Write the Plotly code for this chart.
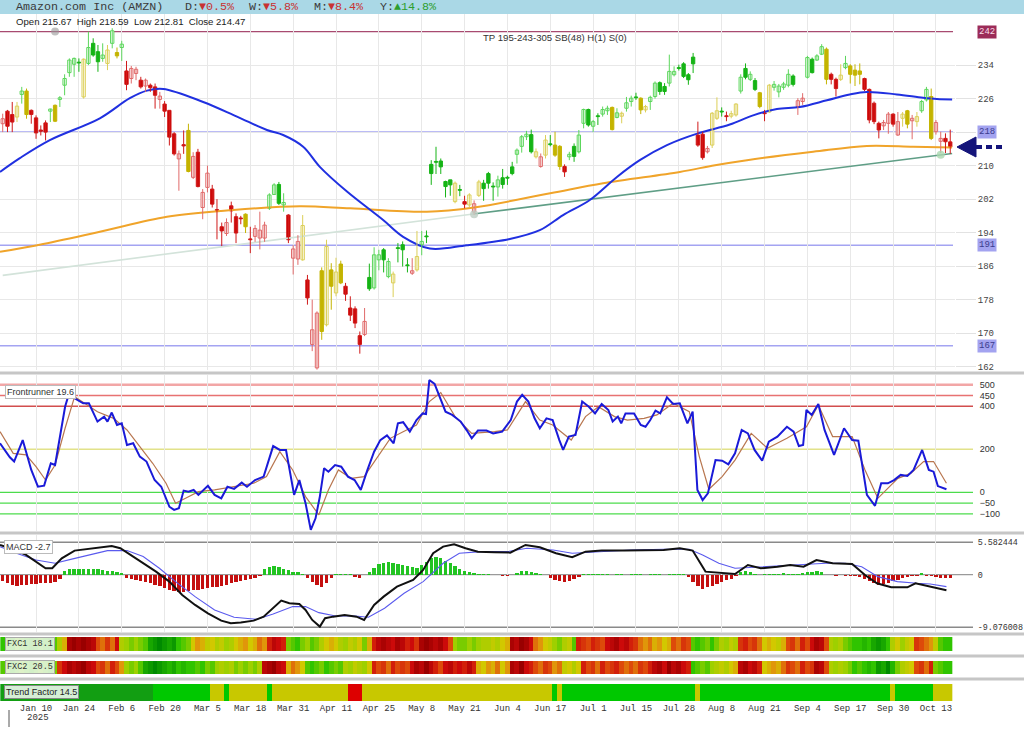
import plotly.graph_objects as go

# ---------------- DATA ----------------
date_idx = [7, 16, 25, 34, 43, 52, 61, 70, 79, 88, 97, 106, 115, 124, 133, 142, 151, 160, 169, 178, 187, 196]
date_labels = ["Jan 10", "Jan 24", "Feb 6", "Feb 20", "Mar 5", "Mar 18", "Mar 31", "Apr 11", "Apr 25", "May 8",
               "May 21", "Jun 4", "Jun 17", "Jul 1", "Jul 15", "Jul 28", "Aug 8", "Aug 21", "Sep 4", "Sep 17",
               "Sep 30", "Oct 13"]

candle_style = list("rRRygYRRRR" "gYggggGygG" "GgygYgRrrR" "rRRrRRRrRY" "rRrrRRRrRR"
                    "RYRrrrggGg" "RrryRrrYyY" "yYRRRRrGgg" "GgyGGGrygG" "GGGGGyGRyr"
                    "yGGGgGGGgg" "gGyryGYYRg" "GggGgGggYg" "yggGYyggGG" "ggGGGGRRry"
                    "yGRyygGgGY" "RyggggGrrg" "GggYRRygYY" "YRRRRrrRry" "YryggYrrRR")

o_vals = [220.0, 223.0, 222.2, 221.6, 227.0, 227.8, 223.2, 221.4, 218.5, 220.2,
          223.0, 224.4, 225.8, 229.2, 232.2, 234.2, 234.7, 226.4, 234.4, 239.2,
          237.2, 235.6, 234.4, 239.2, 237.0, 238.2, 232.6, 230.8, 232.0, 230.4,
          229.0, 229.2, 228.8, 225.8, 224.7, 223.2, 217.6, 211.6, 215.0, 218.4,
          207.2, 213.2, 200.0, 204.8, 204.4, 199.5, 195.4, 193.8, 200.4, 197.8,
          197.5, 198.4, 192.5, 193.1, 192.7, 192.7, 199.8, 203.1, 205.5, 200.6,
          198.2, 187.9, 187.7, 187.5, 182.7, 167.3, 161.7, 184.9, 172.0, 185.1,
          179.6, 186.5, 181.2, 176.0, 175.8, 169.4, 169.7, 183.3, 180.8, 187.5,
          189.9, 183.5, 182.0, 190.4, 191.1, 186.3, 184.3, 185.1, 191.1, 193.2,
          210.3, 211.0, 211.1, 206.2, 206.6, 201.4, 204.3, 201.4, 200.6, 198.9,
          202.9, 205.8, 208.1, 205.1, 204.9, 207.1, 207.2, 209.7, 212.7, 214.6,
          216.9, 217.4, 212.1, 209.8, 212.5, 215.2, 214.9, 214.6, 209.8, 212.1,
          214.6, 213.3, 220.1, 223.4, 219.4, 221.9, 222.3, 223.1, 223.9, 221.5,
          221.8, 223.7, 225.3, 226.4, 226.1, 223.3, 225.3, 226.5, 229.8, 228.9,
          229.7, 231.7, 233.4, 234.3, 231.7, 235.9, 217.3, 217.5, 213.3, 214.9,
          221.3, 223.0, 221.9, 221.8, 222.1, 227.8, 233.2, 230.6, 230.3, 227.4,
          222.6, 222.8, 228.7, 227.6, 228.7, 229.2, 231.4, 224.1, 225.3, 231.1,
          235.4, 235.2, 236.6, 237.8, 231.8, 230.6, 230.6, 233.4, 233.8, 232.8,
          232.6, 230.8, 228.2, 224.9, 220.1, 219.5, 220.1, 222.3, 217.3, 221.3,
          223.1, 220.7, 220.5, 223.1, 225.7, 226.5, 218.1, 215.8, 216.5, 215.67]
h_vals = [222.4, 223.3, 225.2, 225.2, 228.8, 228.4, 223.4, 222.0, 219.6, 220.8,
          223.6, 224.6, 226.6, 231.8, 235.6, 235.8, 235.6, 235.6, 242.0, 240.4,
          238.8, 239.2, 238.8, 242.8, 238.2, 239.8, 235.0, 233.8, 233.6, 231.2,
          230.8, 229.6, 229.6, 227.6, 225.4, 223.2, 218.0, 213.6, 218.4, 220.0,
          213.2, 214.0, 204.4, 210.0, 205.4, 202.0, 196.4, 197.4, 201.4, 198.6,
          198.0, 198.6, 195.4, 195.8, 199.0, 196.6, 203.4, 205.8, 206.1, 203.4,
          198.4, 191.0, 193.4, 198.2, 183.9, 178.0, 175.2, 185.7, 192.3, 186.7,
          188.0, 187.3, 182.0, 178.8, 176.4, 170.4, 176.0, 186.6, 190.5, 189.9,
          190.3, 187.9, 184.7, 191.5, 191.9, 187.9, 187.9, 194.4, 194.4, 194.5,
          211.3, 214.5, 211.7, 206.4, 206.6, 206.2, 205.4, 202.8, 203.4, 201.7,
          206.6, 206.6, 208.5, 206.0, 207.6, 209.2, 207.6, 210.9, 214.1, 217.3,
          218.3, 218.6, 214.1, 212.9, 217.3, 217.3, 218.1, 214.9, 210.3, 213.3,
          215.3, 218.5, 223.6, 223.6, 220.9, 222.5, 224.1, 224.3, 224.1, 223.7,
          222.9, 226.4, 226.7, 227.4, 226.3, 224.5, 226.7, 230.1, 230.1, 229.7,
          236.5, 233.7, 234.1, 234.7, 232.1, 236.9, 220.5, 218.1, 214.7, 222.8,
          226.3, 223.9, 222.9, 223.1, 224.9, 231.8, 234.4, 232.5, 230.9, 227.6,
          223.3, 229.5, 230.2, 229.5, 230.0, 233.0, 231.8, 226.1, 227.3, 236.2,
          235.8, 236.6, 239.0, 238.2, 232.2, 231.0, 234.2, 236.2, 234.2, 234.2,
          234.4, 231.0, 228.4, 225.3, 220.5, 220.9, 222.8, 222.5, 222.8, 222.8,
          223.3, 222.1, 222.8, 225.7, 228.8, 228.4, 220.9, 218.1, 217.7, 218.59]
l_vals = [218.0, 218.0, 218.0, 220.4, 224.8, 221.2, 220.0, 216.4, 217.2, 216.0,
          220.4, 220.4, 224.0, 226.8, 231.2, 231.2, 232.4, 226.0, 234.0, 236.0,
          232.4, 234.8, 232.8, 238.0, 235.6, 235.0, 228.0, 229.6, 230.4, 228.4,
          227.6, 227.6, 223.6, 223.6, 221.6, 214.8, 212.4, 204.0, 212.8, 208.4,
          206.8, 204.8, 197.2, 203.6, 200.0, 192.4, 190.8, 193.2, 196.4, 191.5,
          196.0, 193.9, 189.1, 191.8, 190.0, 191.8, 199.4, 203.0, 200.6, 199.0,
          191.5, 184.0, 186.3, 187.3, 176.8, 165.7, 161.3, 168.4, 171.6, 175.6,
          178.8, 181.7, 177.7, 172.9, 171.2, 165.1, 169.3, 180.1, 180.4, 185.0,
          184.5, 183.1, 178.6, 186.9, 185.9, 184.5, 183.9, 184.7, 188.6, 191.5,
          205.4, 208.0, 208.0, 202.4, 202.8, 201.0, 202.7, 199.8, 200.0, 198.2,
          202.5, 201.6, 204.5, 201.6, 202.6, 204.5, 205.4, 207.7, 210.5, 213.1,
          216.1, 212.9, 211.7, 209.5, 211.7, 214.6, 212.1, 209.0, 207.3, 211.3,
          210.9, 212.9, 218.9, 219.3, 218.0, 219.7, 221.7, 222.1, 218.4, 221.3,
          220.1, 222.9, 224.1, 225.7, 222.3, 222.7, 223.3, 226.0, 226.9, 226.9,
          228.9, 231.3, 232.7, 230.9, 229.3, 232.1, 214.5, 211.4, 212.9, 214.2,
          220.9, 221.7, 220.6, 221.3, 221.7, 227.2, 230.6, 230.2, 227.8, 223.7,
          220.6, 222.6, 227.9, 226.3, 228.1, 228.7, 228.9, 222.1, 224.5, 230.8,
          232.0, 235.0, 236.4, 229.4, 229.4, 226.5, 230.2, 233.0, 229.6, 229.0,
          229.4, 227.8, 220.1, 219.9, 216.5, 218.5, 217.6, 219.3, 217.1, 219.3,
          218.9, 216.3, 219.3, 222.6, 225.3, 216.1, 217.4, 213.0, 213.0, 212.81]
c_vals = [221.2, 219.4, 220.4, 224.2, 227.8, 222.2, 222.2, 217.8, 218.2, 218.0,
          223.5, 220.6, 226.2, 230.8, 235.2, 235.6, 234.5, 235.4, 238.2, 236.4,
          234.8, 236.4, 237.6, 242.2, 236.2, 239.0, 229.4, 233.2, 233.0, 228.8,
          230.4, 228.6, 226.8, 226.6, 223.0, 216.8, 212.8, 212.8, 214.7, 208.6,
          212.2, 205.0, 203.6, 208.2, 200.8, 199.3, 194.4, 196.4, 199.2, 193.9,
          197.3, 195.4, 192.3, 195.0, 194.6, 195.8, 203.0, 205.4, 201.0, 201.2,
          192.3, 190.1, 191.9, 195.7, 178.4, 170.8, 174.8, 170.4, 190.7, 181.2,
          184.6, 182.0, 179.3, 174.3, 172.4, 167.3, 172.8, 180.6, 188.7, 188.7,
          187.5, 187.1, 184.1, 190.2, 189.9, 186.1, 184.9, 188.3, 191.9, 193.0,
          208.1, 210.8, 209.7, 205.0, 205.4, 205.8, 204.1, 200.8, 203.0, 200.9,
          206.1, 204.5, 205.8, 204.9, 206.6, 205.5, 207.0, 208.1, 213.7, 216.9,
          217.5, 213.3, 213.3, 212.1, 216.1, 215.0, 212.5, 209.8, 208.5, 212.7,
          212.2, 217.3, 223.4, 219.7, 220.5, 221.7, 223.4, 223.7, 218.6, 222.6,
          222.5, 225.0, 226.1, 226.2, 223.3, 224.1, 226.3, 229.7, 227.7, 227.7,
          232.5, 232.5, 233.2, 231.3, 230.5, 234.3, 214.9, 211.9, 214.1, 222.5,
          223.1, 222.8, 221.7, 222.4, 224.7, 231.1, 231.1, 231.8, 228.2, 224.1,
          222.4, 229.2, 229.4, 229.0, 229.5, 231.8, 229.4, 225.5, 226.1, 235.8,
          232.2, 236.2, 238.4, 230.6, 230.6, 228.4, 231.6, 234.4, 231.8, 231.6,
          231.8, 228.2, 220.9, 220.5, 218.5, 220.3, 222.3, 219.9, 220.5, 222.3,
          219.9, 221.3, 221.7, 225.3, 228.2, 216.5, 220.3, 216.5, 215.7, 214.47]

ma50_x = [-0.57, 3.6, 9.9, 20.4, 26.7, 30.3, 33.7, 42.1, 49.2, 55.5, 58.9, 63.1, 66.6, 72.3, 79.9, 84.1, 89.7,
          97.5, 106.5, 112.8, 117.7, 123.3, 129.0, 133.8, 139.5, 146.0, 152.7, 157.6, 162.6, 167.4, 173.1,
          177.9, 181.5, 187.8, 193.3, 196.2, 199.4]
ma50_v = [208.5, 211.8, 216.1, 221.3, 226.1, 227.9, 228.3, 225.2, 221.7, 218.5, 217.3, 214.5, 209.7, 203.8,
          197.0, 193.0, 190.2, 191.0, 192.5, 194.6, 198.2, 201.8, 207.3, 211.3, 214.9, 217.7, 219.8, 222.0,
          223.5, 224.0, 225.6, 227.0, 227.6, 227.0, 226.2, 225.9, 225.8]
ma200_x = [-0.57, 8.5, 20.4, 34.5, 48.4, 62.4, 73.0, 89.1, 99.0, 115.0, 126.1, 142.2, 149.6, 156.3, 170.2,
           181.5, 191.2, 199.4]
ma200_v = [189.4, 191.3, 194.2, 197.8, 199.4, 200.3, 199.8, 199.0, 200.0, 203.4, 205.8, 208.5, 210.1, 211.3,
           213.3, 214.7, 214.5, 214.3]
trend_x = [0.0, 99.2, 199.4]
trend_v = [183.8, 198.5, 212.9]
level_vals = [242, 218, 191, 167]
price_ticks = [162, 170, 178, 186, 194, 202, 210, 218, 226, 234]

fr_x = [-0.57, 1.5, 2.4, 4.2, 6.0, 7.4, 8.7, 10.1, 11.0, 13.1, 14.1, 15.1, 16.9, 18.1, 19.9, 21.3, 22.0, 22.9,
        24.0, 25.0, 26.1, 27.4, 28.8, 30.2, 31.9, 33.3, 35.0, 36.0, 37.0, 38.0, 39.0, 40.1, 41.1, 43.1, 44.5,
        45.9, 47.2, 48.6, 50.2, 51.3, 53.0, 54.8, 56.8, 58.2, 59.5, 61.2, 62.3, 63.6, 64.7, 65.7, 66.6, 67.5,
        68.4, 69.8, 71.1, 72.5, 73.9, 75.2, 76.6, 78.0, 79.3, 80.7, 82.1, 83.0, 84.1, 85.5, 86.9, 88.2, 88.9,
        89.6, 90.7, 91.6, 93.0, 94.4, 96.2, 97.5, 98.5, 99.8, 101.6, 103.0, 104.9, 106.7, 108.0, 109.1, 110.4,
        111.7, 112.8, 114.2, 115.5, 116.9, 117.7, 118.9, 120.3, 121.7, 123.1, 124.4, 125.8, 127.2, 128.1,
        129.2, 129.9, 130.8, 132.6, 134.0, 135.0, 136.0, 137.1, 138.1, 139.5, 140.8, 142.2, 143.8, 144.9,
        145.9, 147.0, 148.1, 149.7, 151.1, 152.4, 153.8, 155.2, 156.5, 157.9, 159.5, 160.9, 162.7, 164.7,
        166.1, 167.2, 168.1, 168.8, 169.9, 171.3, 172.6, 174.6, 176.7, 178.4, 179.7, 181.5, 183.2, 184.5,
        185.9, 187.2, 188.6, 190.0, 191.3, 193.1, 194.5, 195.5, 196.4, 198.2]
fr_v = [228, 163, 143, 243, 104, 26, 31, 135, 127, 398, 473, 437, 414, 414, 329, 352, 329, 371, 313, 321,
        220, 228, 166, 143, 57, 26, -67, -82, -74, 8, 3, 11, -12, 30, -12, -28, 26, 16, 45, 26,
        57, 73, 215, 197, 197, -12, 57, -51, -175, -121, -20, 112, 96, 127, 119, 73, 57, 11, 104, 189,
        243, 265, 228, 321, 326, 282, 336, 367, 364, 522, 504, 453, 375, 360, 329, 287, 251, 287, 287, 274,
        282, 336, 422, 453, 422, 344, 298, 344, 336, 243, 197, 259, 267, 422, 398, 367, 411, 383, 329, 352,
        321, 367, 367, 313, 305, 336, 380, 367, 442, 411, 414, 321, 375, 11, -36, -5, 150, 147, 130, 181,
        290, 274, 197, 147, 236, 259, 305, 282, 215, 220, 383, 360, 411, 290, 174, 298, 243, 240, -12, -63,
        42, 42, 57, 81, 76, 104, 197, 104, 96, 29, 14]
fr_sig_x = [-0.57, 2.2, 4.9, 7.0, 9.0, 11.0, 13.1, 15.1, 17.2, 19.9, 23.3, 26.1, 28.8, 31.5, 34.3, 36.3, 38.4,
            41.1, 44.5, 48.6, 52.7, 55.4, 58.2, 60.9, 63.6, 66.4, 68.4, 70.5, 73.2, 75.9, 78.7, 81.4, 84.1,
            86.9, 89.6, 92.0, 95.0, 98.5, 103.3, 106.0, 109.8, 112.8, 115.5, 119.4, 122.4, 125.1, 128.5,
            131.2, 134.7, 137.4, 140.8, 144.2, 146.3, 148.3, 151.1, 153.8, 157.2, 160.6, 164.7, 168.8,
            171.3, 174.3, 178.4, 181.1, 183.8, 188.0, 190.7, 193.4, 195.5, 198.2]
fr_sig_v = [282, 181, 174, 119, 57, 127, 298, 445, 414, 375, 344, 290, 212, 135, 42, -51, -28, 3, 11, 26,
            42, 73, 189, 104, -20, -105, 11, 104, 65, 73, 166, 251, 282, 313, 422, 464, 352, 274, 282, 290,
            422, 336, 313, 243, 352, 398, 352, 336, 344, 360, 414, 375, 166, 14, 73, 150, 274, 205, 251, 305,
            406, 259, 259, 104, -28, 65, 88, 143, 143, 42]
fr_levels = [500, 450, 400, 200, 0, -50, -100]

macd_x = [-0.57, 2.2, 4.9, 7.0, 9.0, 10.4, 12.4, 15.1, 18.6, 20.6, 22.9, 24.7, 26.8, 29.5, 32.2, 35.0, 37.7,
          40.4, 43.1, 45.9, 47.9, 50.0, 52.7, 54.8, 56.8, 58.5, 60.2, 62.3, 63.6, 65.0, 66.6, 67.7, 69.4, 71.8,
          74.3, 75.9, 78.0, 80.0, 82.8, 86.2, 88.3, 90.4, 92.5, 94.8, 97.2, 99.8, 103.3, 106.6, 109.8, 112.8,
          116.2, 119.6, 122.4, 125.8, 130.6, 134.7, 138.8, 142.2, 144.9, 147.6, 151.1, 153.8, 156.5, 159.2,
          162.7, 165.4, 168.2, 170.9, 174.3, 178.4, 181.1, 183.6, 186.6, 190.0, 191.7, 193.4, 196.1, 198.2]
macd_v = [5.12, 4.38, 3.4, 2.25, 1.1, 1.1, 2.82, 4.15, 4.55, 4.67, 4.95, 4.55, 3.4, 1.96, 0.52, -1.2, -3.5,
          -5.22, -6.66, -7.93, -8.38, -8.27, -7.93, -7.24, -5.8, -4.48, -4.94, -5.05, -6.09, -7.81, -8.96,
          -7.52, -7.24, -6.95, -7.24, -7.81, -5.22, -3.79, -2.06, -0.91, 0.81, 3.69, 4.84, 5.24, 4.55, 3.97,
          3.86, 3.8, 5.12, 4.72, 3.69, 3.0, 3.97, 4.15, 4.15, 4.15, 4.26, 4.55, 4.15, 0.52, 0.23, 0.12, 1.67,
          1.1, 1.38, 1.67, 1.38, 2.53, 1.96, 1.85, -0.05, -1.49, -2.18, -2.18, -1.49, -1.78, -2.24, -2.7]
sig_x = [-0.57, 2.9, 7.0, 11.0, 14.5, 17.9, 22.0, 26.1, 29.5, 32.9, 36.3, 40.4, 44.5, 48.6, 53.4, 56.8, 60.9,
         63.6, 66.4, 69.9, 74.0, 76.8, 80.2, 84.3, 88.3, 92.5, 95.9, 100.5, 106.0, 110.1, 115.6, 119.6, 125.1,
         132.0, 138.8, 144.2, 147.0, 150.4, 153.8, 158.2, 163.4, 168.8, 172.9, 177.0, 180.4, 183.8, 187.9,
         192.0, 194.8, 198.2]
sig_v = [4.83, 3.69, 2.53, 1.96, 2.68, 3.4, 4.15, 4.15, 3.12, 1.1, -1.2, -3.79, -6.09, -7.35, -7.7, -6.78,
         -5.51, -5.51, -6.55, -7.12, -7.12, -7.35, -5.8, -3.21, -1.2, 1.96, 3.69, 3.97, 3.97, 4.55, 4.26, 3.69,
         3.97, 4.26, 4.38, 4.38, 3.4, 1.96, 1.1, 1.27, 1.5, 1.79, 1.96, 1.96, 1.38, -0.34, -1.2, -1.49, -1.61,
         -2.07]
macd_hist = [-1.1, -1.5, -1.8, -1.9, -1.8, -1.7, -1.6, -1.6, -1.5, -1.5, -1.4, -1.2, -0.8,
             0.6, 0.9, 1.0, 1.05, 1.0, 1.0, 0.95, 0.9, 0.8, 0.7, 0.6, 0.45, 0.3,
             -0.5, -0.7, -0.9, -1.1, -1.3, -1.5, -1.7, -2.0, -2.3, -2.6, -2.9, -3.0, -3.0, -2.8, -2.7,
             -2.6, -2.5, -2.3, -2.2, -2.1, -1.9, -1.7, -1.5, -1.3, -1.1, -0.9, -0.7, -0.5, -0.3,
             0.9, 1.3, 1.45, 1.4, 1.0, 0.8, 0.5, 0.4, 0.2,
             -0.6, -1.2, -1.8, -2.1, -1.5, -0.6,
             0.1, 0.15, 0.1, 0.05, -0.4, -0.5, -0.1,
             0.5, 1.2, 1.8, 2.0, 2.1, 2.0, 1.9, 1.7, 1.5, 1.3, 1.2, 1.6, 2.2, 2.9, 3.1, 2.8, 2.4, 2.0, 1.5,
             1.0, 0.6, 0.4, 0.3, 0.2, 0.1,
             0.05, -0.05, -0.1, -0.15, -0.2, -0.1,
             0.3, 0.6, 0.7, 0.5, 0.3, 0.05, -0.1,
             -0.5, -0.9, -1.1, -1.2, -1.1, -0.8, -0.4,
             0.1, 0.15, 0.2, 0.15, 0.1,
             0.05, -0.05, 0.05, 0.05, -0.05, 0.05, 0.1, 0.05, -0.05, 0.05, 0.1, 0.05, -0.05, 0.05, 0.05, 0.1, 0.05,
             -0.4, -1.2, -1.9, -2.4, -2.2, -1.9, -1.6, -1.3, -1.0, -0.7, -0.3,
             0.5, 0.6, 0.4, 0.1, -0.1, 0.05, 0.1, 0.05,
             0.2, 0.3, 0.2, 0.1, 0.2, 0.3, 0.4, 0.5, 0.6, 0.4,
             -0.1, -0.1, -0.15, -0.1, -0.2, -0.2, -0.3, -0.4,
             -0.7, -1.1, -1.5, -1.8, -1.6, -1.4, -1.1, -0.9, -0.6, -0.4,
             -0.3, -0.2, 0.3, -0.2, -0.3, -0.4, -0.5, -0.5, -0.6]
macd_ticks = [5.582444, 0, -9.076008]

fxc1 = [0.8, 0.75, 0.8, 0.7, 0.75, 0.8, 0.85, 0.8, 0.75, 0.8, 0.85, 0.75, 0.6, 0.45,
        0.05, 0.0, 0.05, 0.0, 0.05, 0.1, 0.3, 0.35, 0.25, 0.35, 0.15,
        0.6, 0.65, 0.7, 0.65, 0.7, 0.75, 0.9, 0.95, 1.0, 0.95, 0.9, 0.95, 0.8, 0.75, 0.7,
        0.5, 0.4, 0.45, 0.55, 0.5, 0.6, 0.55, 0.65, 0.6, 0.5, 0.45, 0.4, 0.5, 0.45, 0.35, 0.4,
        0.2, 0.1, 0.15, 0.2, 0.7, 0.75, 0.8, 0.7, 0.65, 0.75, 0.7, 0.6, 0.5, 0.45, 0.5,
        0.6, 0.65, 0.55, 0.6, 0.5, 0.7, 0.45,
        0.2, 0.1, 0.05, 0.1, 0.15, 0.05, 0.1, 0.2, 0.15, 0.25, 0.05, 0.0, 0.05, 0.1, 0.05, 0.15, 0.3,
        0.65, 0.7, 0.7, 0.65, 0.7, 0.65, 0.6, 0.6, 0.55, 0.6, 0.5, 0.45,
        0.05, 0.1, 0.0, 0.05, 0.15, 0.35, 0.4, 0.5, 0.55, 0.65, 0.7, 0.6, 0.55, 0.75,
        0.2, 0.25, 0.3, 0.2, 0.25, 0.3, 0.15, 0.1, 0.05, 0.15, 0.1, 0.2, 0.25,
        0.35, 0.4, 0.35, 0.45, 0.4, 0.5, 0.45, 0.3, 0.35, 0.25, 0.3,
        0.75, 0.8, 0.75, 0.7, 0.8, 0.7, 0.6, 0.65, 0.55, 0.6,
        0.25, 0.2, 0.3, 0.25, 0.35, 0.5, 0.45, 0.5, 0.55, 0.45,
        0.3, 0.25, 0.35, 0.2, 0.3, 0.15, 0.05, 0.1, 0.3,
        0.6, 0.65, 0.6, 0.7, 0.75, 0.8, 0.8, 0.85, 0.8, 0.9, 0.95, 0.9, 0.8,
        0.6, 0.5, 0.65, 0.55, 0.5, 0.25, 0.3, 0.35, 0.4, 0.55, 0.75, 0.8, 0.8]
fxc2 = [0.75, 0.7, 0.8, 0.75, 0.7, 0.75, 0.8, 0.75, 0.7, 0.75, 0.8, 0.7, 0.25,
        0.15, 0.05, 0.1, 0.05, 0.0, 0.1, 0.15, 0.3, 0.25, 0.35, 0.2, 0.3, 0.4,
        0.65, 0.7, 0.65, 0.75, 0.9, 0.95, 1.0, 0.95, 0.9, 0.85, 0.9, 0.8, 0.85, 0.8,
        0.8, 0.75, 0.8, 0.7, 0.75, 0.65, 0.6, 0.65, 0.6, 0.7, 0.65, 0.7, 0.65, 0.7, 0.6,
        0.1, 0.05, 0.0, 0.1, 0.15, 0.45, 0.35, 0.4, 0.5, 0.75, 0.8, 0.75, 0.7,
        0.8, 0.75, 0.7, 0.75, 0.6, 0.65, 0.55, 0.6, 0.65, 0.5,
        0.2, 0.3, 0.25, 0.35, 0.2, 0.3, 0.25, 0.3,
        0.15, 0.05, 0.1, 0.0, 0.1, 0.2, 0.3, 0.15, 0.1, 0.2, 0.15, 0.2, 0.1, 0.2,
        0.45, 0.5, 0.4, 0.45, 0.35, 0.5, 0.4, 0.05, 0.1, 0.0, 0.15, 0.2,
        0.3, 0.35, 0.25, 0.3, 0.4, 0.35, 0.55, 0.5, 0.6, 0.5,
        0.2, 0.3, 0.25, 0.35, 0.2, 0.3, 0.25, 0.2, 0.3, 0.35, 0.3, 0.35, 0.25, 0.3, 0.2,
        0.1, 0.05, 0.15, 0.0, 0.1, 0.05, 0.15, 0.2, 0.8, 0.75, 0.7, 0.75,
        0.65, 0.6, 0.55, 0.6, 0.5, 0.45, 0.1, 0.05, 0.15, 0.1, 0.2,
        0.5, 0.45, 0.4, 0.45, 0.35, 0.25, 0.3, 0.35, 0.2, 0.3, 0.25, 0.05, 0.1, 0.3,
        0.6, 0.65, 0.6, 0.65, 0.7, 0.8, 0.75, 0.8, 0.85, 0.8, 0.95, 0.9, 1.0, 0.85,
        0.7, 0.6, 0.55, 0.5, 0.3, 0.25, 0.35, 0.2, 0.7, 0.75, 0.8, 0.8]
trend_runs = [("D", 32), ("G", 12), ("Y", 3), ("G", 1), ("Y", 8), ("G", 1), ("Y", 16), ("R", 3), ("Y", 40),
              ("G", 1), ("Y", 1), ("G", 28), ("Y", 1), ("G", 40), ("Y", 1), ("G", 8), ("Y", 4)]

# ---------------- GEOMETRY HELPERS ----------------
PL, PR, PT, PB = 0, 955, 14, 701
def px(x):
    return (x - PL) / (PR - PL)
def py(y):
    return (PB - y) / (PB - PT)

XR = [-0.57, 200.0]
n = len(c_vals)
idx = list(range(n))

MONO = "Liberation Mono"
SANS = "Liberation Sans"

fig = go.Figure()

# ---------------- MAIN PANEL ----------------
fig.add_trace(go.Scatter(x=trend_x[:2], y=trend_v[:2], mode="lines", line=dict(color="#d3e3da", width=1.6),
                         xaxis="x", yaxis="y", hoverinfo="skip"))
fig.add_trace(go.Scatter(x=trend_x[1:], y=trend_v[1:], mode="lines", line=dict(color="#5f9e86", width=1.6),
                         xaxis="x", yaxis="y", hoverinfo="skip"))
fig.add_trace(go.Scatter(x=ma200_x, y=ma200_v, mode="lines", line=dict(color="#f0a42a", width=2, shape="spline"),
                         xaxis="x", yaxis="y"))
fig.add_trace(go.Scatter(x=ma50_x, y=ma50_v, mode="lines", line=dict(color="#2030e0", width=2, shape="spline"),
                         xaxis="x", yaxis="y"))

styles = {
    "G": ("#16b416", "#16b416"),
    "g": ("#ffffff", "#5cd65c"),
    "R": ("#cc0000", "#d01a1a"),
    "r": ("#ffffff", "#e06a6a"),
    "Y": ("#c4b400", "#c4b400"),
    "y": ("#ffffff", "#dccf58"),
}
for s, (fill, line) in styles.items():
    ids = [i for i in idx if candle_style[i] == s]
    wx, wy = [], []
    for i in ids:
        wx += [i, i, None]
        wy += [l_vals[i], h_vals[i], None]
    fig.add_trace(go.Scatter(x=wx, y=wy, mode="lines", line=dict(color=line, width=1),
                             xaxis="x", yaxis="y", hoverinfo="skip"))
for s, (fill, line) in styles.items():
    ids = [i for i in idx if candle_style[i] == s]
    fig.add_trace(go.Bar(x=ids,
                         y=[max(abs(c_vals[i] - o_vals[i]), 0.2) for i in ids],
                         base=[min(o_vals[i], c_vals[i]) for i in ids],
                         width=0.7, marker=dict(color=fill, line=dict(color=line, width=1)),
                         xaxis="x", yaxis="y"))

fig.add_trace(go.Scatter(x=[11, 99, 197], y=[242, 198.4, 212.6], mode="markers",
                         marker=dict(size=8, color=["rgba(150,150,150,0.6)", "rgba(190,205,195,0.8)",
                                                    "rgba(170,215,175,0.8)"]),
                         xaxis="x", yaxis="y"))

# ---------------- FRONTRUNNER ----------------
fig.add_trace(go.Scatter(x=fr_sig_x, y=fr_sig_v, mode="lines", line=dict(color="#b8764f", width=1.2),
                         xaxis="x2", yaxis="y2"))
fig.add_trace(go.Scatter(x=fr_x, y=fr_v, mode="lines", line=dict(color="#1a1ad8", width=2),
                         xaxis="x2", yaxis="y2"))

# ---------------- MACD ----------------
fig.add_trace(go.Bar(x=idx, y=macd_hist, width=0.7,
                     marker=dict(color=["#22c422" if v >= 0 else "#c40f0f" for v in macd_hist], line=dict(width=0)),
                     xaxis="x3", yaxis="y3"))
fig.add_trace(go.Scatter(x=sig_x, y=sig_v, mode="lines", line=dict(color="#5a5aee", width=1.1),
                         xaxis="x3", yaxis="y3"))
fig.add_trace(go.Scatter(x=macd_x, y=macd_v, mode="lines", line=dict(color="#111111", width=2),
                         xaxis="x3", yaxis="y3"))

# ---------------- STRIPS ----------------
fxc_scale = [[0.0, "#990000"], [0.15, "#cc0a0a"], [0.3, "#dd4a0a"], [0.4, "#e0960a"], [0.5, "#d2c800"],
             [0.65, "#9ed000"], [0.8, "#30c400"], [1.0, "#008a00"]]
fig.add_trace(go.Heatmap(z=[fxc1], x=idx, y=[0], colorscale=fxc_scale, zmin=0, zmax=1, showscale=False,
                         xaxis="x4", yaxis="y4"))
fig.add_trace(go.Heatmap(z=[fxc2], x=idx, y=[0], colorscale=fxc_scale, zmin=0, zmax=1, showscale=False,
                         xaxis="x5", yaxis="y5"))
code = {"D": 0, "G": 1, "Y": 2, "R": 3}
tf = []
for k, cnt in trend_runs:
    tf += [code[k]] * cnt
tf_scale = [[0, "#129e12"], [0.25, "#129e12"], [0.25, "#00c800"], [0.5, "#00c800"],
            [0.5, "#c8c800"], [0.75, "#c8c800"], [0.75, "#dd0000"], [1, "#dd0000"]]
fig.add_trace(go.Heatmap(z=[tf], x=idx, y=[0], colorscale=tf_scale, zmin=-0.5, zmax=3.5, showscale=False,
                         xaxis="x6", yaxis="y6"))

# ---------------- LAYOUT ----------------
grid = "#e8e8e8"
def xax(anchor, grid_on, labels=False):
    d = dict(domain=[0, 1], anchor=anchor, range=XR, showgrid=grid_on, gridcolor=grid, gridwidth=1,
             zeroline=False, showline=False, tickvals=date_idx, ticks="", showticklabels=labels,
             fixedrange=True)
    if labels:
        d.update(ticktext=date_labels, tickfont=dict(family=MONO, size=9, color="#333"))
    return d

main_dom = [py(370), 1.0]
fr_dom = [py(531), py(375)]
macd_dom = [py(632), py(535)]
f1_dom = [py(651), py(637)]
f2_dom = [py(674), py(661)]
tf_dom = [0.0, py(684)]

layout = dict(
    width=1024, height=735, template="none",
    margin=dict(l=PL, r=1024 - PR, t=PT, b=735 - PB, pad=0),
    paper_bgcolor="white", plot_bgcolor="white",
    showlegend=False, barmode="overlay", bargap=0, hovermode=False,
    font=dict(family=SANS, size=10, color="#333"),
    xaxis=xax("y", True), xaxis2=xax("y2", True), xaxis3=xax("y3", True),
    xaxis4=xax("y4", False), xaxis5=xax("y5", False), xaxis6=xax("y6", False, labels=True),
    yaxis=dict(domain=main_dom, range=[161.2, 246.2], side="right", anchor="x", tickvals=price_ticks,
               ticks="outside", ticklen=20, tickcolor="#e2e2e2", tickwidth=1, showgrid=True, gridcolor=grid,
               zeroline=False, showline=False, tickfont=dict(family=MONO, size=9, color="#444"),
               automargin=False, fixedrange=True),
    yaxis2=dict(domain=fr_dom, range=[-180, 545.6], side="right", anchor="x2", tickvals=fr_levels,
                ticks="outside", ticklen=22, tickcolor="rgba(0,0,0,0)", showgrid=False, zeroline=False,
                showline=False, tickfont=dict(family=SANS, size=9, color="#333"), automargin=False,
                fixedrange=True),
    yaxis3=dict(domain=macd_dom, range=[-9.89, 6.84], side="right", anchor="x3", tickvals=macd_ticks,
                ticktext=["5.582444", "0", "-9.076008"], ticks="outside", ticklen=20,
                tickcolor="rgba(0,0,0,0)", showgrid=False, zeroline=False, showline=False,
                tickfont=dict(family=MONO, size=8.4, color="#333"), automargin=False, fixedrange=True),
    yaxis4=dict(domain=f1_dom, range=[-0.5, 0.5], anchor="x4", visible=False, fixedrange=True),
    yaxis5=dict(domain=f2_dom, range=[-0.5, 0.5], anchor="x5", visible=False, fixedrange=True),
    yaxis6=dict(domain=tf_dom, range=[-0.5, 0.5], anchor="x6", visible=False, fixedrange=True),
)
fig.update_layout(**layout)

shapes = []
XE = 1024 / 955
shapes.append(dict(type="rect", xref="paper", yref="paper", x0=0, x1=XE, y0=py(14), y1=py(0),
                   fillcolor="#aad8e6", line=dict(width=0), layer="below"))
for ys in [373, 533, 634, 656, 679]:
    shapes.append(dict(type="line", xref="paper", yref="paper", x0=0, x1=XE, y0=py(ys), y1=py(ys),
                       line=dict(color="#c6c6c6", width=3)))
lvl_colors = {242: "#a84a70", 218: "#a4a4f2", 191: "#a4a4f2", 167: "#a4a4f2"}
for v in level_vals:
    shapes.append(dict(type="line", xref="paper", yref="y", x0=0, x1=px(953), y0=v, y1=v,
                       line=dict(color=lvl_colors[v], width=1.5 if v != 242 else 1.2), layer="below"))
fr_colors = {500: ("#f2a6a6", 2.5), 450: ("#e87272", 1.6), 400: ("#d24e4e", 1.6), 200: ("#e2e28a", 1.6),
             0: ("#4cdc4c", 1.3), -50: ("#4cdc4c", 1.3), -100: ("#4cdc4c", 1.3)}
for v in fr_levels:
    c, w = fr_colors[v]
    shapes.append(dict(type="line", xref="paper", yref="y2", x0=0, x1=px(973), y0=v, y1=v,
                       line=dict(color=c, width=w), layer="below"))
for v, c, w in [(5.582444, "#8a8a8a", 1.5), (-9.076008, "#8a8a8a", 1.5), (0, "#9a9a9a", 1.2)]:
    shapes.append(dict(type="line", xref="paper", yref="y3", x0=0, x1=px(973), y0=v, y1=v,
                       line=dict(color=c, width=w), layer="below"))
shapes.append(dict(type="line", xref="paper", yref="paper", x0=px(9), x1=px(9), y0=py(710), y1=py(727),
                   line=dict(color="#555", width=1)))
shapes.append(dict(type="path", xref="paper", yref="paper",
                   path=f"M {px(957)} {py(147)} L {px(976)} {py(137)} L {px(976)} {py(157)} Z",
                   fillcolor="#14147a", line=dict(color="#14147a", width=1)))
shapes.append(dict(type="line", xref="paper", yref="paper", x0=px(976), x1=px(1002), y0=py(147), y1=py(147),
                   line=dict(color="#14147a", width=4, dash="6px,4px")))
fig.update_layout(shapes=shapes)

ann = []
def text(x, y, s, size=10, family=SANS, color="#333", xanchor="left", **kw):
    ann.append(dict(xref="paper", yref="paper", x=px(x), y=py(y), text=s, showarrow=False,
                    xanchor=xanchor, yanchor="middle", font=dict(family=family, size=size, color=color), **kw))

text(14, 7, "Amazon.com Inc (AMZN)", size=11.7, family=MONO, color="#3a3a3a")
text(183, 7, "D:<span style='color:#c83232'>▼0.5%</span>", size=11.7, family=MONO, color="#3a3a3a")
text(247, 7, "W:<span style='color:#c83232'>▼5.8%</span>", size=11.7, family=MONO, color="#3a3a3a")
text(312, 7, "M:<span style='color:#c83232'>▼8.4%</span>", size=11.7, family=MONO, color="#3a3a3a")
text(378, 7, "Y:<span style='color:#2e9e2e'>▲14.8%</span>", size=11.7, family=MONO, color="#3a3a3a")
text(14, 22, "Open 215.67  High 218.59  Low 212.81  Close 214.47", size=9.6, color="#222")
text(555, 37, "TP 195-243-305 SB(48) H(1) S(0)", size=9.6, color="#333", xanchor="center")

badge = {242: ("#9c2c58", "#f6dce8"), 218: ("#a3a3f0", "#3b3b8e"), 191: ("#a3a3f0", "#3b3b8e"),
         167: ("#a3a3f0", "#3b3b8e")}
for v in level_vals:
    bg, fg = badge[v]
    ann.append(dict(xref="paper", yref="y", x=px(977), y=v, text=str(v), showarrow=False, xanchor="left",
                    yanchor="middle", bgcolor=bg, borderpad=1,
                    font=dict(family=MONO, size=9, color=fg)))

text(5, 392, "Frontrunner 19.6", size=9, color="#333", bgcolor="white", bordercolor="#bbbbbb",
     borderwidth=1, borderpad=1)
text(4, 547, "MACD -2.7", size=9, color="#333", bgcolor="white", bordercolor="#bbbbbb",
     borderwidth=1, borderpad=1)
text(5, 644, "FXC1 18.1", size=8.5, family=MONO, color="#333", bgcolor="rgba(240,248,235,0.85)",
     bordercolor="#aaaaaa", borderwidth=1, borderpad=1)
text(5, 667, "FXC2 20.5", size=8.5, family=MONO, color="#333", bgcolor="rgba(240,248,235,0.85)",
     bordercolor="#aaaaaa", borderwidth=1, borderpad=1)
text(4, 692, "Trend Factor 14.5", size=9, color="#222", bgcolor="rgba(225,242,225,0.95)",
     bordercolor="#888888", borderwidth=1, borderpad=1)
text(25, 718, "2025", size=9, family=MONO, color="#333")
fig.update_layout(annotations=ann)

fig.write_html("out.html", config={"displayModeBar": False, "staticPlot": True},
               post_script="document.body.style.margin='0px';document.body.style.padding='0px';")
